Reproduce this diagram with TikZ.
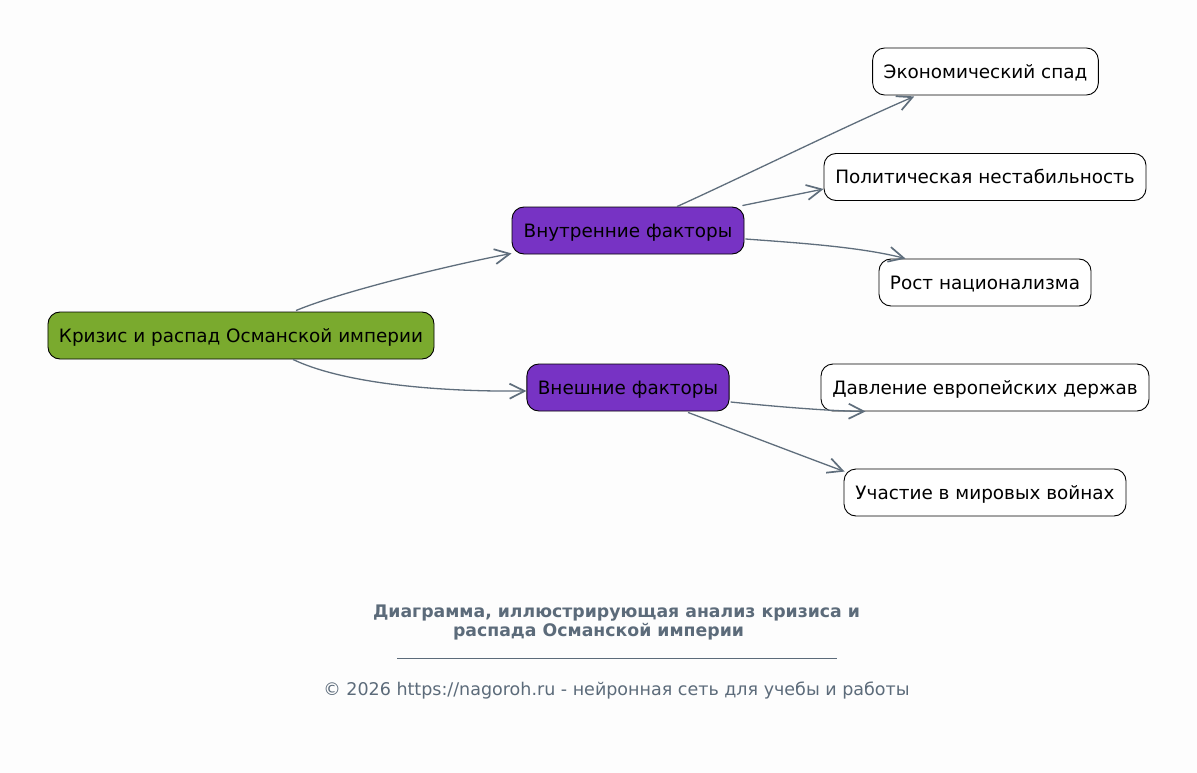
\documentclass[tikz,border=0pt]{standalone}
\usepackage{fontspec}
\setmainfont{DejaVu Sans}
\usetikzlibrary{arrows.meta,calc}
\definecolor{bgc}{HTML}{FDFDFD}
\definecolor{edgec}{HTML}{5F6E7C}
\definecolor{rootc}{HTML}{7AAA2E}
\definecolor{midc}{HTML}{7733C4}
\definecolor{titlec}{HTML}{5C6B7A}
\tikzset{
  box/.style={draw=black, line width=0.9pt, rounded corners=12pt, minimum height=47pt, inner xsep=11pt, text height=14pt, text depth=0.5pt, font=\fontsize{18.4}{22}\selectfont, text=black},
  rootbox/.style={box, fill=rootc},
  midbox/.style={box, fill=midc},
  leafbox/.style={box, fill=white},
  edge/.style={draw=edgec, line width=1.3pt, -{Straight Barb[length=15pt,width=15pt,line width=1.7pt]}},
}
\begin{document}
\begin{tikzpicture}[x=1pt,y=1pt]
\fill[bgc] (0,0) rectangle (1197,-773);
\useasboundingbox (0,0) rectangle (1197,-773);
\node[rootbox, minimum width=386pt] (root) at (241,-335.5) {Кризис и распад Османской империи};
\node[midbox, minimum width=232pt] (vn) at (628,-230.5) {Внутренние факторы};
\node[midbox, minimum width=202pt] (ex) at (628,-387.5) {Внешние факторы};
\node[leafbox, minimum width=225pt] (ec) at (985.5,-71.5) {Экономический спад};
\node[leafbox, minimum width=322pt] (po) at (985,-177) {Политическая нестабильность};
\node[leafbox, minimum width=212pt] (ro) at (985,-282.5) {Рост национализма};
\node[leafbox, minimum width=328pt] (da) at (985,-387.5) {Давление европейских держав};
\node[leafbox, minimum width=282pt] (uc) at (985,-492.5) {Участие в мировых войнах};

\draw[edge] ($(root.north)+(55,1)$) .. controls (340,-292) and (450,-265) .. ($(vn.south west)+(0,1)$);
\draw[edge] ($(root.south)+(52,0)$) .. controls (340,-382) and (430,-392) .. ($(ex.west)+(0,-3.5)$);
\draw[edge] ($(vn.north)+(49,0)$) .. controls (740,-178) and (850,-124) .. ($(ec.south west)+(42,-1)$);
\draw[edge] ($(vn.north east)+(-2,1)$) -- ($(po.west)+(0,-12)$);
\draw[edge] ($(vn.east)+(1,-8.5)$) .. controls (800,-243) and (860,-247) .. ($(ro.north west)+(27,0)$);
\draw[edge] ($(ex.east)+(1,-14.5)$) .. controls (780,-407) and (830,-411) .. ($(da.south west)+(45,0)$);
\draw[edge] ($(ex.south)+(60,-1)$) .. controls (740,-432) and (800,-455) .. ($(uc.north west)+(1,-3)$);

\node[font=\bfseries\fontsize{17.3}{20}\selectfont, text=titlec] (t1) at (616.5,-613) {Диаграмма, иллюстрирующая анализ кризиса и};
\node[font=\bfseries\fontsize{17.3}{20}\selectfont, text=titlec] (t2) at (598.5,-632) {распада Османской империи};
\draw[titlec, line width=0.8pt] (397,-658) -- (837,-658);
\node[font=\fontsize{17.5}{20}\selectfont, text=titlec] (ft) at (616.5,-691) {© 2026 https://nagoroh.ru - нейронная сеть для учебы и работы};
\end{tikzpicture}
\end{document}
